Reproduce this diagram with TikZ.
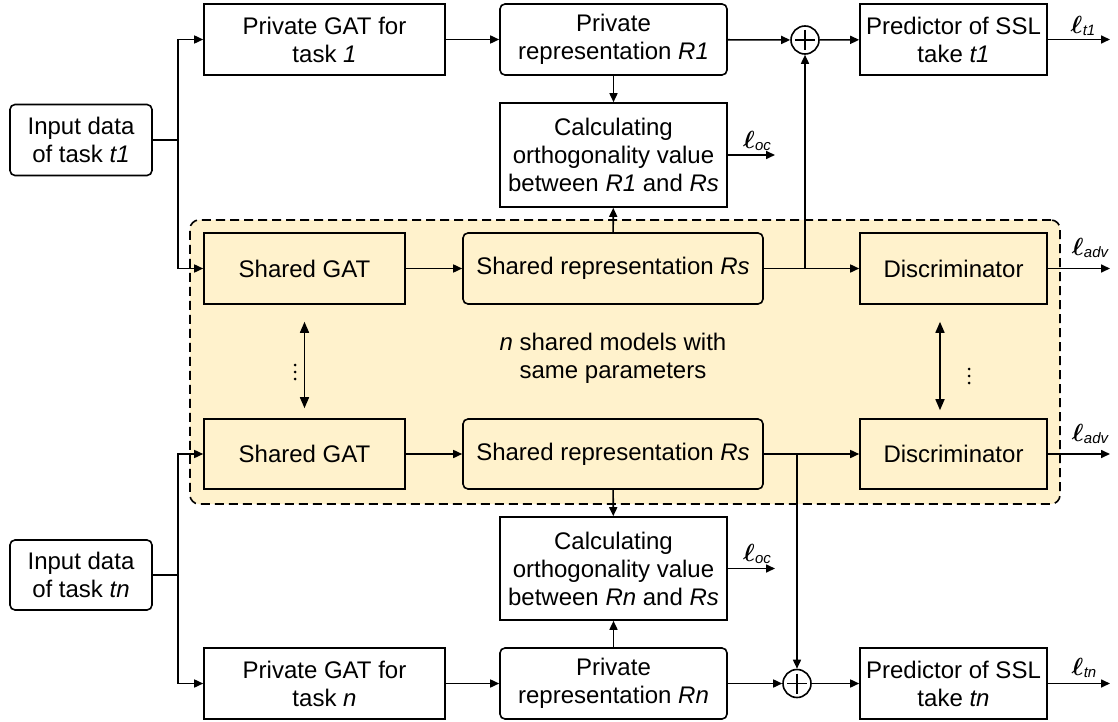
\documentclass[tikz,border=0pt]{standalone}
\usepackage{fontspec}
\usepackage{bm}
\setmainfont{Liberation Sans}
\usetikzlibrary{arrows.meta}
\definecolor{shy}{HTML}{FFF2CC}
\newcommand\myfs{\fontsize{24bp}{28bp}\selectfont}
\newcommand\lossl[1]{{\fontsize{28bp}{28bp}\selectfont$\bm{\ell}$}\kern0.3bp\raisebox{-2.5bp}{\fontsize{15bp}{15bp}\selectfont\itshape #1}}
\tikzset{
  box/.style={draw, line width=1.6bp, align=center, inner sep=0pt, font=\myfs},
  rbox/.style={box, rounded corners=5bp},
  yel/.style={fill=shy},
  arr/.style={-{Triangle[length=9bp,width=8bp]}, line width=1.6bp},
  darr/.style={{Triangle[length=11bp,width=9bp]}-{Triangle[length=11bp,width=9bp]}, line width=1.6bp},
  lab/.style={font=\myfs, inner sep=0pt},
  dotc/.style={fill, circle, inner sep=0pt, minimum size=3bp},
  region/.style={draw, fill=shy, line width=1.6bp, dash pattern=on 9bp off 5bp, rounded corners=9bp, inner sep=0pt}
}
\begin{document}
\begin{tikzpicture}[x=1bp,y=-1bp]
\useasboundingbox (0,0) rectangle (1118,722);
% shared region
\node[region, minimum width=870bp, minimum height=284bp] (grp) at (625,362) {};
% top row
\node[rbox, minimum width=142bp, minimum height=71bp] (in1) at (81,140) {Input data\\of task \textit{t1}};
\node[box, minimum width=241bp, minimum height=71bp] (pg1) at (324.5,39.5) {Private GAT for\\task \textit{1}};
\node[rbox, minimum width=227bp, minimum height=71bp] (pr1) at (613.5,39.5) {Private\\representation \textit{R1}};
\node[draw, circle, line width=1.6bp, minimum size=28bp, inner sep=0pt] (p1) at (805,40) {};
\node[box, minimum width=187bp, minimum height=71bp] (pd1) at (953.5,39.5) {Predictor of SSL\\take \textit{t1}};
\node[box, minimum width=227bp, minimum height=104bp] (c1) at (613.5,155) {Calculating\\orthogonality value\\between \textit{R1} and \textit{Rs}};
% shared rows
\node[box, yel, minimum width=201bp, minimum height=71bp] (sg1) at (304.5,268.5) {Shared GAT};
\node[rbox, yel, minimum width=300bp, minimum height=71bp] (sr1) at (613,268.5) {Shared representation \textit{Rs}};
\node[box, yel, minimum width=187bp, minimum height=71bp] (d1) at (953.5,268.5) {Discriminator};
\node[box, yel, minimum width=201bp, minimum height=70bp] (sg2) at (304.5,454) {Shared GAT};
\node[rbox, yel, minimum width=300bp, minimum height=70bp] (sr2) at (613,454) {Shared representation \textit{Rs}};
\node[box, yel, minimum width=187bp, minimum height=70bp] (d2) at (953.5,454) {Discriminator};
\node[lab, align=center] (txt) at (613,358) {\textit{n} shared models with\\same parameters};
% dots
\node[dotc] (da1) at (295,365) {};
\node[dotc] (da2) at (295,372) {};
\node[dotc] (da3) at (295,379) {};
\node[dotc] (db1) at (969,369) {};
\node[dotc] (db2) at (969,376) {};
\node[dotc] (db3) at (969,383) {};
% bottom row
\node[rbox, minimum width=142bp, minimum height=70bp] (in2) at (81,575) {Input data\\of task \textit{tn}};
\node[box, minimum width=227bp, minimum height=103bp] (c2) at (613.5,568.5) {Calculating\\orthogonality value\\between \textit{Rn} and \textit{Rs}};
\node[box, minimum width=241bp, minimum height=71bp] (pg2) at (324.5,683.5) {Private GAT for\\task \textit{n}};
\node[rbox, minimum width=227bp, minimum height=71bp] (pr2) at (613.5,683.5) {Private\\representation \textit{Rn}};
\node[draw, circle, line width=1.6bp, minimum size=28bp, inner sep=0pt] (p2) at (797,683.5) {};
\node[box, minimum width=187bp, minimum height=71bp] (pd2) at (953.5,683.5) {Predictor of SSL\\take \textit{tn}};
% plus signs
\draw[line width=1.6bp] ([yshift=10bp]p1.center) -- ([yshift=-10bp]p1.center) ([xshift=-10bp]p1.center) -- ([xshift=10bp]p1.center);
\draw[line width=1.6bp] ([yshift=10bp]p2.center) -- ([yshift=-10bp]p2.center) ([xshift=-10bp]p2.center) -- ([xshift=10bp]p2.center);
% coordinates
\coordinate (b1) at (178,140);
\coordinate (b2) at (178,575);
\coordinate (j1) at (805,268.5);
\coordinate (j2) at (797,454);
\coordinate (o1) at (1110,39.5);
\coordinate (o2) at (775,155);
\coordinate (o3) at (1110,268.5);
\coordinate (o4) at (1110,454);
\coordinate (o5) at (775,568.5);
\coordinate (o6) at (1110,683.5);
% top connectors
\draw[line width=1.6bp] (in1.east) -- (b1);
\draw[arr] (b1) |- (pg1.west);
\draw[arr] (b1) |- (sg1.west);
\draw[arr] (pg1) -- (pr1);
\draw[arr] (pr1) -- (p1);
\draw[arr] (p1) -- (pd1);
\draw[arr] (pd1) -- (o1);
\draw[arr] (pr1) -- (c1);
\draw[arr] (sr1) -- (c1);
\draw[arr] (c1) -- (o2);
\draw[arr] (sg1) -- (sr1);
\draw[arr] (sr1) -- (d1);
\draw[arr] (j1) -- (p1);
\draw[arr] (d1) -- (o3);
% shared vertical links
\draw[darr] ([yshift=-17bp]sg1.south) -- ([yshift=10bp]sg2.north);
\draw[darr] ([xshift=-13.5bp,yshift=-17bp]d1.south) -- ([xshift=-13.5bp,yshift=8bp]d2.north);
% bottom connectors
\draw[line width=1.6bp] (in2.east) -- (b2);
\draw[arr] (b2) |- (sg2.west);
\draw[arr] (b2) |- (pg2.west);
\draw[arr] (sg2) -- (sr2);
\draw[arr] (sr2) -- (d2);
\draw[arr] (j2) -- (p2);
\draw[arr] (d2) -- (o4);
\draw[arr] (sr2) -- (c2);
\draw[arr] (pr2) -- (c2);
\draw[arr] (c2) -- (o5);
\draw[arr] (pg2) -- (pr2);
\draw[arr] (pr2) -- (p2);
\draw[arr] (p2) -- (pd2);
\draw[arr] (pd2) -- (o6);
% loss labels
\node[lab] (l1) at (1083,26) {\lossl{t1}};
\node[lab] (l2) at (757,141) {\lossl{oc}};
\node[lab] (l3) at (1090,248) {\lossl{adv}};
\node[lab] (l4) at (1090,434) {\lossl{adv}};
\node[lab] (l5) at (757,554) {\lossl{oc}};
\node[lab] (l6) at (1084,668) {\lossl{tn}};
\end{tikzpicture}
\end{document}
